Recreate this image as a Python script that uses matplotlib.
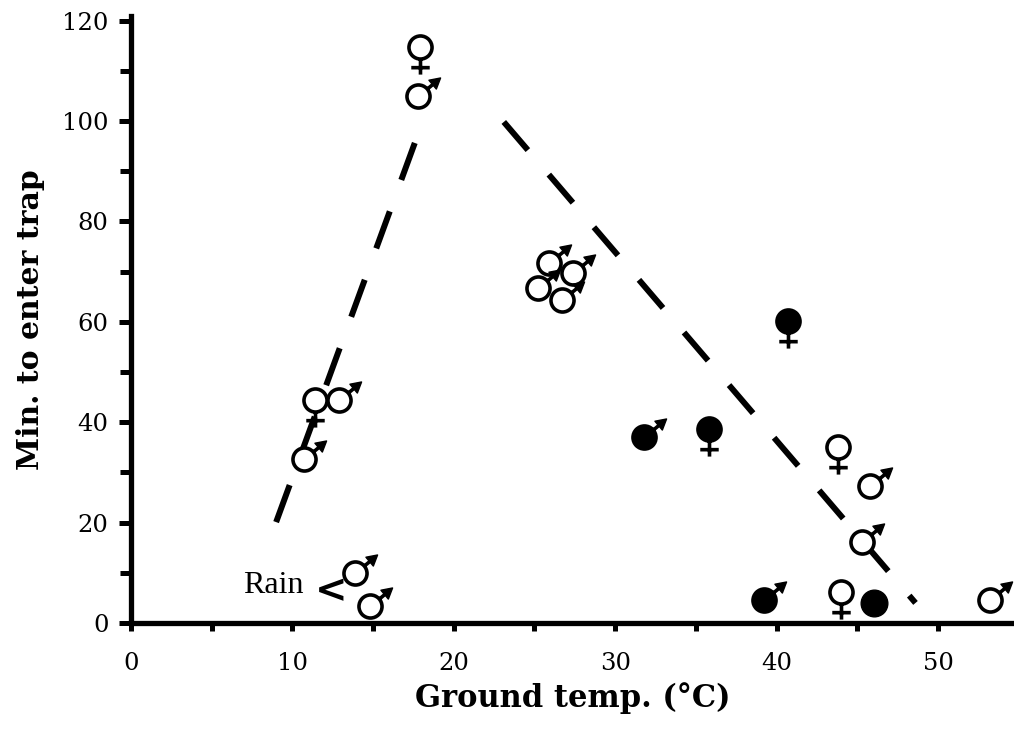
import numpy as np
import matplotlib
matplotlib.use("Agg")
import matplotlib.pyplot as plt
from matplotlib.path import Path
from matplotlib.markers import MarkerStyle

# --- data ---
open_male_x = [17.8, 12.9, 10.7, 13.9, 14.8, 25.9, 27.4, 25.2, 26.7, 45.8, 45.3, 53.2]
open_male_y = [105.0, 44.4, 32.7, 10.0, 3.4, 71.7, 69.7, 66.7, 64.3, 27.3, 16.1, 4.6]
open_female_x = [17.9, 11.4, 43.8, 44.0]
open_female_y = [114.7, 44.4, 35.0, 6.2]
filled_male_x = [31.8, 39.2]
filled_male_y = [37.1, 4.6]
filled_female_x = [35.8, 40.7]
filled_female_y = [38.6, 60.2]
filled_plain_x = [46.0]
filled_plain_y = [4.0]

# dashed trend lines (end points)
rise_x = [9.0, 17.7]
rise_y = [20.1, 96.6]
fall_x = [23.1, 48.6]
fall_y = [99.8, 4.0]

x_ticks = [0, 10, 20, 30, 40, 50]
y_ticks = [0, 20, 40, 60, 80, 100, 120]

# --- sex symbol markers (unit circle radius 1) ---
ang = np.deg2rad(40)
d = np.array([np.cos(ang), np.sin(ang)])
nrm = np.array([-np.sin(ang), np.cos(ang)])
tip = 2.5 * d
base = 1.6 * d
stem = Path([d, base + 0.1 * d], [Path.MOVETO, Path.LINETO])
head = Path([tip, base + 0.5 * nrm, base - 0.5 * nrm, tip],
            [Path.MOVETO, Path.LINETO, Path.LINETO, Path.CLOSEPOLY])
male_body = Path.make_compound_path(Path.unit_circle(), stem)
# keep same scaling for head: add tip vertex to body so rescale matches
male_body = Path.make_compound_path(male_body, Path([tip, tip], [Path.MOVETO, Path.LINETO]))

cross = Path([(0, -1), (0, -2.35), (-0.8, -1.75), (0.8, -1.75)],
             [Path.MOVETO, Path.LINETO, Path.MOVETO, Path.LINETO])
female = Path.make_compound_path(Path.unit_circle(), cross)

r_pt = 8.3  # circle radius in points


def msize(p):
    return 2 * r_pt * np.max(np.abs(p.vertices))


plt.rcParams['font.family'] = 'DejaVu Serif'

fig = plt.figure(figsize=(10.14, 7.38), dpi=100)
ax = fig.add_axes([0.129, 0.1558, 0.871, 0.8225])

ax.plot(rise_x, rise_y, color='k', lw=4.3, dashes=(6.6, 5.6), zorder=2)
ax.plot(fall_x, fall_y, color='k', lw=4.3, dashes=(6.2, 5.4), zorder=2)

mew = 2.6
ms_m = msize(male_body)
ms_f = msize(female)

for i in range(len(open_male_x)):
    ax.plot(open_male_x[i], open_male_y[i], ls='none', marker=MarkerStyle(male_body),
            ms=ms_m, mfc='white', mec='k', mew=mew, zorder=3 + i * 0.01)
    ax.plot(open_male_x[i], open_male_y[i], ls='none', marker=MarkerStyle(head),
            ms=ms_m, mfc='k', mec='k', mew=1, zorder=3 + i * 0.01)
ax.plot(filled_male_x, filled_male_y, ls='none', marker=MarkerStyle(male_body),
        ms=ms_m, mfc='k', mec='k', mew=mew, zorder=3)
ax.plot(filled_male_x, filled_male_y, ls='none', marker=MarkerStyle(head),
        ms=ms_m, mfc='k', mec='k', mew=1, zorder=3)
ax.plot(open_female_x, open_female_y, ls='none', marker=MarkerStyle(female),
        ms=ms_f, mfc='white', mec='k', mew=mew, zorder=3)
ax.plot(filled_female_x, filled_female_y, ls='none', marker=MarkerStyle(female),
        ms=ms_f, mfc='k', mec='k', mew=mew, zorder=3)
ax.plot(filled_plain_x, filled_plain_y, ls='none', marker='o',
        ms=2 * r_pt + mew, mfc='k', mec='k', zorder=3)

# rain note
ax.text(10.7, 7.4, 'Rain', family='Liberation Serif', fontsize=23,
        ha='right', va='center')
ax.text(12.4, 6.4, '<', family='DejaVu Sans', fontsize=28, fontweight='bold',
        ha='center', va='center')

ax.set_xlim(0, 54.7)
ax.set_ylim(0, 120.9)
for s in ['top', 'right']:
    ax.spines[s].set_visible(False)
for s in ['left', 'bottom']:
    ax.spines[s].set_linewidth(3.8)

ax.set_xticks(x_ticks)
ax.set_xticks(np.arange(5, 55, 10), minor=True)
ax.set_yticks(y_ticks)
ax.set_yticks(np.arange(10, 120, 20), minor=True)
ax.tick_params(axis='x', which='both', direction='out', length=6, width=3.6, pad=15,
               labelsize=17.5)
ax.tick_params(axis='y', which='major', direction='out', length=9, width=3.6, pad=7,
               labelsize=17.5)
ax.tick_params(axis='y', which='minor', direction='out', length=8, width=3.6)

ax.set_xlabel('Ground temp. (°C)', fontsize=22, fontweight='bold', labelpad=5)
ax.set_ylabel('Min. to enter trap', fontsize=21.5, fontweight='bold', labelpad=12)

fig.savefig('out.png', dpi=100)
